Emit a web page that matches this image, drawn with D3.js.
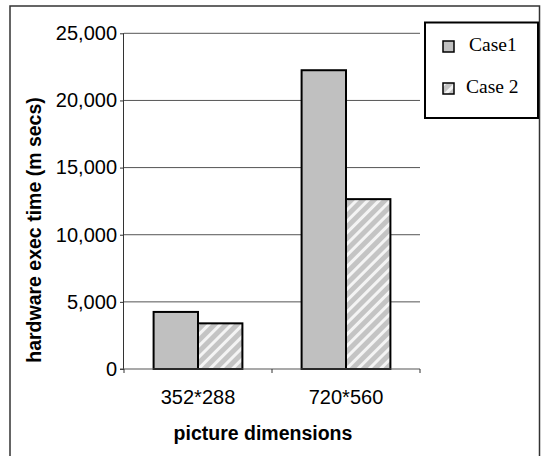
<!DOCTYPE html>
<html>
<head>
<meta charset="utf-8">
<script src="https://cdn.jsdelivr.net/npm/d3@7/dist/d3.min.js"></script>
<style>
  html, body { margin: 0; padding: 0; background: #fff; }
  svg { display: block; }
</style>
</head>
<body>
<svg id="chart" width="541" height="456"></svg>
<script>
// Execution time per picture size, for the two cases
const categories = ["352*288", "720*560"];
const seriesNames = ["Case1", "Case 2"];
const case1 = [4250, 22250];
const case2 = [3400, 12650];
const yTicks = [0, 5000, 10000, 15000, 20000, 25000];

const svg = d3.select("#chart");
const plot = { left: 124, right: 420, top: 33.3, bottom: 369 };
const sans = "Liberation Sans, Arial, sans-serif";

// Hatched fill for the second case
const defs = svg.append("defs");
const pat = defs.append("pattern")
  .attr("id", "hatch")
  .attr("patternUnits", "userSpaceOnUse")
  .attr("width", 8).attr("height", 8)
  .attr("patternTransform", "rotate(45)");
pat.append("rect").attr("width", 8).attr("height", 8).attr("fill", "#c4c4c4");
pat.append("rect").attr("x", 0).attr("width", 3).attr("height", 8).attr("fill", "#f4f4f4");

// Outer frame
svg.append("rect")
  .attr("x", 10).attr("y", 6).attr("width", 529.5).attr("height", 460)
  .attr("fill", "none").attr("stroke", "#333").attr("stroke-width", 1.5);

const x = d3.scaleBand().domain(categories).range([plot.left, plot.right]);
const x1 = d3.scaleBand().domain(seriesNames).range([x.bandwidth() * 0.2, x.bandwidth() * 0.8]);
const y = d3.scaleLinear().domain([0, 25000]).range([plot.bottom, plot.top]);

// Gridlines
svg.append("g").selectAll("line").data(yTicks.filter(d => d > 0)).join("line")
  .attr("x1", plot.left).attr("x2", plot.right)
  .attr("y1", d => y(d)).attr("y2", d => y(d))
  .attr("stroke", "#555").attr("stroke-width", 1);

// Bars
const rows = categories.map((c, i) => ({ cat: c, vals: [case1[i], case2[i]] }));
const groups = svg.append("g").selectAll("g").data(rows).join("g")
  .attr("transform", d => `translate(${x(d.cat)},0)`);
groups.selectAll("rect")
  .data(d => d.vals.map((v, j) => ({ name: seriesNames[j], v })))
  .join("rect")
  .attr("x", d => x1(d.name))
  .attr("y", d => y(d.v))
  .attr("width", x1.bandwidth())
  .attr("height", d => y(0) - y(d.v))
  .attr("fill", d => d.name === "Case1" ? "#c0c0c0" : "url(#hatch)")
  .attr("stroke", "#000").attr("stroke-width", 2);

// Y axis
const yAxis = svg.append("g")
  .attr("transform", `translate(${plot.left},0)`)
  .call(d3.axisLeft(y).tickValues(yTicks).tickSize(4).tickPadding(3)
    .tickFormat(d3.format(",")));
yAxis.select(".domain").attr("stroke", "#333").attr("d", `M-0.5,${plot.top}V${plot.bottom}`);
yAxis.selectAll(".tick line").attr("stroke", "#333");
yAxis.selectAll("text")
  .attr("font-family", sans)
  .attr("font-size", 20).attr("fill", "#000");

// X axis with ticks at category boundaries
const xAxis = svg.append("g").attr("transform", `translate(0,${plot.bottom})`);
xAxis.append("line").attr("x1", plot.left - 4).attr("x2", plot.right)
  .attr("stroke", "#555").attr("stroke-width", 1.2);
xAxis.selectAll(".bt").data([plot.left, x(categories[1]), plot.right]).join("line")
  .attr("x1", d => d).attr("x2", d => d).attr("y1", 0).attr("y2", 4)
  .attr("stroke", "#333");
xAxis.selectAll("text").data(categories).join("text")
  .attr("x", d => x(d) + x.bandwidth() / 2)
  .attr("y", 35)
  .attr("text-anchor", "middle")
  .attr("font-family", sans)
  .attr("font-size", 20)
  .text(d => d);

// Axis titles
svg.append("text")
  .attr("x", 263).attr("y", 440)
  .attr("text-anchor", "middle")
  .attr("font-family", sans)
  .attr("font-weight", "bold").attr("font-size", 19.5)
  .text("picture dimensions");
svg.append("text")
  .attr("transform", "translate(41,230) rotate(-90)")
  .attr("text-anchor", "middle")
  .attr("font-family", sans)
  .attr("font-weight", "bold").attr("font-size", 19.5)
  .text("hardware exec time (m secs)");

// Legend
const legend = svg.append("g");
legend.append("rect")
  .attr("x", 425).attr("y", 22.5).attr("width", 113).attr("height", 95.5)
  .attr("fill", "#fff").attr("stroke", "#000").attr("stroke-width", 2);
const items = legend.selectAll("g.item").data(seriesNames).join("g")
  .attr("transform", (d, i) => `translate(443,${41 + i * 42})`);
items.append("rect")
  .attr("width", 11).attr("height", 11)
  .attr("fill", d => d === "Case1" ? "#c0c0c0" : "url(#hatch)")
  .attr("stroke", "#000").attr("stroke-width", 1.5);
items.append("text")
  .attr("x", (d, i) => i === 0 ? 26 : 23).attr("y", 10)
  .attr("font-family", "Liberation Serif, Times New Roman, serif")
  .attr("font-size", 19.5)
  .text(d => d);
</script>
</body>
</html>
